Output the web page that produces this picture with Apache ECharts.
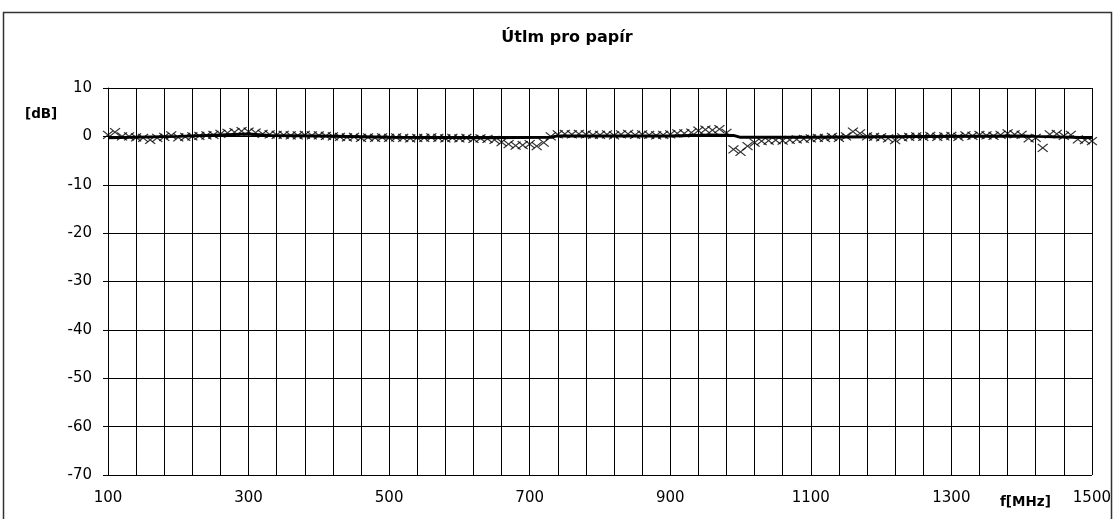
<!DOCTYPE html>
<html>
<head>
<meta charset="utf-8">
<script src="https://cdn.jsdelivr.net/npm/echarts@6/dist/echarts.min.js"></script>
<style>html,body{margin:0;padding:0;background:#fff}#c{width:1114px;height:519px}</style>
</head>
<body>
<div id="c"></div>
<script>
// Measured attenuation (crosses), every 10 MHz from 100 to 1500
const freqStart = 100, freqStep = 10;
const measured = [
  0.3, 0.9, 0.0, 0.0, -0.2, -0.3, -0.7, -0.3, -0.1, 0.2,
  -0.2, -0.1, 0.0, 0.1, 0.2, 0.3, 0.5, 0.7, 0.9, 1.1,
  1.0, 0.8, 0.5, 0.4, 0.3, 0.3, 0.2, 0.2, 0.3, 0.2,
  0.2, 0.1, 0.0, -0.1, -0.2, -0.1, -0.3, -0.2, -0.3, -0.2,
  -0.3, -0.2, -0.3, -0.4, -0.3, -0.3, -0.2, -0.3, -0.4, -0.3,
  -0.4, -0.3, -0.5, -0.4, -0.5, -0.7, -1.2, -1.6, -1.9, -1.8,
  -1.6, -2.0, -1.3, 0.0, 0.4, 0.5, 0.4, 0.5, 0.4, 0.3,
  0.3, 0.4, 0.2, 0.4, 0.5, 0.3, 0.4, 0.3, 0.2, 0.3,
  0.4, 0.6, 0.6, 0.8, 1.2, 1.4, 1.3, 1.5, 0.7, -2.7,
  -3.2, -2.0, -1.3, -1.0, -0.9, -0.8, -0.9, -0.7, -0.6, -0.5,
  -0.4, -0.3, -0.3, -0.1, -0.3, 0.0, 1.0, 0.6, 0.0, -0.1,
  -0.2, -0.4, -0.8, -0.2, -0.1, 0.0, -0.1, 0.1, -0.1, 0.0,
  0.1, -0.1, 0.2, 0.1, 0.3, 0.2, 0.1, 0.3, 0.6, 0.4,
  0.3, -0.4, -0.3, -2.4, 0.4, 0.5, 0.1, 0.3, -0.6, -0.8,
  -1.0
];
// Thick reference line
const lineFreq = [100, 200, 260, 300, 330, 400, 500, 640, 730, 740, 900, 960, 990, 1000, 1100, 1200, 1400, 1420, 1500];
const lineVals = [-0.3, 0.0, 0.3, 0.5, 0.2, 0.1, -0.2, -0.3, -0.2, 0.1, 0.1, 0.3, 0.2, -0.2, -0.2, -0.1, 0.1, 0.0, -0.3];
const xLabels = [100, 300, 500, 700, 900, 1100, 1300, 1500];
const yTicks = [10, 0, -10, -20, -30, -40, -50, -60, -70];

const scatterData = measured.map((v, i) => [freqStart + i * freqStep, v]);
const lineData = lineFreq.map((f, i) => [f, lineVals[i]]);

const font = 'DejaVu Sans, Verdana, sans-serif';
const chart = echarts.init(document.getElementById('c'), null, {renderer: 'canvas'});
chart.setOption({
  animation: false,
  backgroundColor: '#fff',
  grid: {left: 108, right: 21, top: 88, bottom: 44, containLabel: false},
  xAxis: {
    type: 'value', min: 100, max: 1500, interval: 40,
    axisLine: {show: true, lineStyle: {color: '#000', width: 1}},
    axisTick: {show: true, length: 5, inside: false, lineStyle: {color: '#000'}},
    splitLine: {show: true, lineStyle: {color: '#000', width: 1}},
    axisLabel: {
      margin: 16, color: '#000', fontFamily: font, fontSize: 15,
      formatter: v => xLabels.indexOf(Math.round(v)) >= 0 ? String(Math.round(v)) : ''
    }
  },
  yAxis: {
    type: 'value', min: -70, max: 10, interval: 10,
    axisLine: {show: true, lineStyle: {color: '#000', width: 1}},
    axisTick: {show: true, length: 5, lineStyle: {color: '#000'}},
    splitLine: {show: true, lineStyle: {color: '#000', width: 1}},
    axisLabel: {margin: 16, color: '#000', fontFamily: font, fontSize: 15,
      formatter: v => yTicks.indexOf(v) >= 0 ? String(v) : ''}
  },
  graphic: [
    {type: 'rect', shape: {x: 3.5, y: 12.5, width: 1108, height: 540},
     style: {fill: 'none', stroke: '#333', lineWidth: 1.5}, silent: true},
    {type: 'text', x: 567, y: 38,
     style: {text: 'Útlm pro papír', font: 'bold 16px ' + font, fill: '#000',
       textAlign: 'center', textVerticalAlign: 'middle'}},
    {type: 'text', x: 25, y: 114,
     style: {text: '[dB]', font: 'bold 13.5px ' + font, fill: '#000',
       textAlign: 'left', textVerticalAlign: 'middle'}},
    {type: 'text', x: 1000, y: 502,
     style: {text: 'f[MHz]', font: 'bold 13.5px ' + font, fill: '#000',
       textAlign: 'left', textVerticalAlign: 'middle'}}
  ],
  series: [
    {
      type: 'line', data: lineData, showSymbol: false, z: 3,
      lineStyle: {color: '#000', width: 3}
    },
    {
      type: 'scatter', data: scatterData, z: 4,
      symbol: 'path://M0,0L10,10M10,0L0,10', symbolSize: [10, 8],
      itemStyle: {color: 'none', borderColor: '#000', borderWidth: 1.2}
    }
  ]
});
</script>
</body>
</html>
